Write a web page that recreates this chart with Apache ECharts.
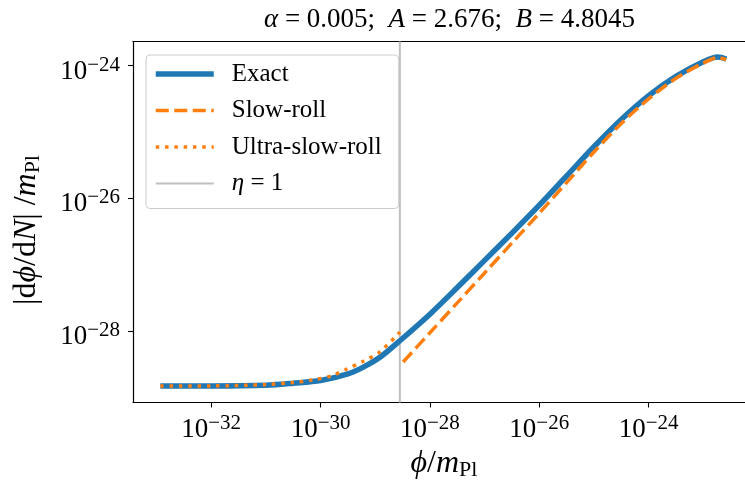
<!DOCTYPE html>
<html>
<head>
<meta charset="utf-8">
<script src="https://cdn.jsdelivr.net/npm/echarts@6/dist/echarts.min.js"></script>
<style>
html,body{margin:0;padding:0;background:#fff;}
#chart{width:745px;height:483px;}
</style>
</head>
<body>
<div id="chart"></div>
<script>
// ---- data: log10 values (both axes are logarithmic) ----
const xTickExps = [-32, -30, -28, -26, -24];
const yTickExps = [-28, -26, -24];
const xLogRange = [-33.43, -22.055];
const yLogRange = [-29.08, -23.646];

const exactLogPhi  = [-32.93, -32.0, -31.0, -30.5, -30.0, -29.5, -29.2, -28.9, -28.55, -28.0, -27.5, -27.0, -26.5, -26.0, -25.5, -25.0, -24.5, -24.0, -23.5, -23.0, -22.73, -22.58];
const exactLogDphi = [-28.83, -28.83, -28.82, -28.79, -28.75, -28.65, -28.54, -28.39, -28.15, -27.75, -27.35, -26.94, -26.53, -26.11, -25.67, -25.23, -24.82, -24.46, -24.17, -23.95, -23.88, -23.91];

const slowLogPhi  = [-28.49, -28.0, -27.5, -27.0, -26.5, -26.0, -25.5, -25.0, -24.5, -24.0, -23.5, -23.0, -22.73, -22.58];
const slowLogDphi = [-28.47, -28.03, -27.58, -27.13, -26.68, -26.23, -25.77, -25.31, -24.88, -24.51, -24.20, -23.97, -23.89, -23.92];

const usrLogPhi  = [-32.93, -32.0, -31.0, -30.5, -30.14, -29.8, -29.53, -29.22, -28.92, -28.55];
const usrLogDphi = [-28.83, -28.83, -28.81, -28.78, -28.74, -28.68, -28.58, -28.46, -28.32, -28.02];

const etaLogPhi = -28.55;

const seriesNames = ['Exact', 'Slow-roll', 'Ultra-slow-roll', 'η = 1'];

// ---- helpers ----
const pairs = (xs, ys) => xs.map((x, i) => [x, ys[i]]);
const FONT = '"Liberation Serif", "DejaVu Serif", serif';
const expLabel = v => {
  const e = Math.round(v);
  return '{b|10}{s|' + (e < 0 ? '\u2212' : '') + Math.abs(e) + '}';
};
const tickRich = {
  b: {fontFamily: FONT, fontSize: 27, lineHeight: 34, color: '#000'},
  s: {fontFamily: FONT, fontSize: 21, lineHeight: 17, verticalAlign: 'top', color: '#000'}
};
const nameRich = {
  n: {fontFamily: FONT, fontSize: 32, lineHeight: 34, color: '#000'},
  i: {fontFamily: FONT, fontSize: 32, lineHeight: 34, fontStyle: 'italic', color: '#000'},
  s: {fontFamily: FONT, fontSize: 22, lineHeight: 23, verticalAlign: 'bottom', color: '#000'}
};

const chart = echarts.init(document.getElementById('chart'), null, {renderer: 'canvas'});
const option = {
  animation: false,
  backgroundColor: '#fff',
  title: {
    text: '{i|α} = 0.005;  {i|A} = 2.676;  {i|B} = 4.8045',
    left: 449.5, top: 6, padding: 0, textAlign: 'center',
    textStyle: {
      fontFamily: FONT, fontSize: 27, fontWeight: 'normal', color: '#000', lineHeight: 28,
      rich: {i: {fontFamily: FONT, fontSize: 27, fontStyle: 'italic', color: '#000', lineHeight: 28}}
    }
  },
  grid: {left: 133, top: 41.5, width: 622, height: 361, show: false, outerBoundsMode: 'none', containLabel: false},
  legend: {
    orient: 'vertical', left: 146, top: 55,
    padding: [6, 17, 12, 7],
    itemWidth: 58, itemHeight: 14, itemGap: 10.5,
    selectedMode: false,
    backgroundColor: 'rgba(255,255,255,0.8)',
    borderColor: '#cccccc', borderWidth: 1, borderRadius: 4,
    data: seriesNames,
    itemStyle: {opacity: 0},
    lineStyle: {width: 'inherit'},
    formatter: name => name === 'η = 1' ? '{i|η} = 1' : name,
    textStyle: {
      fontFamily: FONT, fontSize: 25, lineHeight: 26, color: '#000', padding: [0, 0, 0, 13],
      rich: {i: {fontFamily: FONT, fontSize: 25, lineHeight: 26, fontStyle: 'italic', color: '#000'}}
    }
  },
  xAxis: [{
    type: 'value', position: 'bottom',
    min: xLogRange[0], max: xLogRange[1],
    name: '{i|ϕ}{n|/}{i|m}{s|Pl}',
    nameLocation: 'middle', nameGap: 43,
    nameTextStyle: {rich: nameRich},
    axisLine: {show: true, onZero: false, lineStyle: {color: '#000', width: 1.2}},
    axisTick: {show: true, inside: false, length: 5, lineStyle: {color: '#000', width: 1.1}, customValues: xTickExps},
    axisLabel: {margin: 10, customValues: xTickExps, formatter: expLabel, rich: tickRich},
    splitLine: {show: false}, minorTick: {show: false}
  }, {
    type: 'value', position: 'top',
    min: xLogRange[0], max: xLogRange[1],
    axisLine: {show: true, onZero: false, lineStyle: {color: '#000', width: 1.2}},
    axisTick: {show: false}, axisLabel: {show: false}, splitLine: {show: false}
  }],
  yAxis: {
    type: 'value',
    min: yLogRange[0], max: yLogRange[1],
    name: '{n||d}{i|ϕ}{n|/d}{i|N}{n|| /}{i|m}{s|Pl}',
    nameLocation: 'middle', nameGap: 89, nameRotate: 90,
    nameTextStyle: {rich: nameRich, padding: [0, 16, 0, 0]},
    axisLine: {show: true, onZero: false, lineStyle: {color: '#000', width: 1.2}},
    axisTick: {show: true, inside: false, length: 5, lineStyle: {color: '#000', width: 1.1}, customValues: yTickExps},
    axisLabel: {margin: 13, customValues: yTickExps, formatter: expLabel, rich: tickRich, padding: [13, 0, 0, 0]},
    splitLine: {show: false}, minorTick: {show: false}
  },
  series: [
    {
      name: seriesNames[3], type: 'line', symbol: 'none', z: 1,
      data: [[etaLogPhi, yLogRange[0]], [etaLogPhi, yLogRange[1]]],
      lineStyle: {color: '#bfbfbf', width: 2}, itemStyle: {color: '#bfbfbf'}
    },
    {
      name: seriesNames[0], type: 'line', symbol: 'none', smooth: 0.3, z: 2,
      data: pairs(exactLogPhi, exactLogDphi),
      lineStyle: {color: '#1f77b4', width: 5.5, cap: 'butt'}, itemStyle: {color: '#1f77b4'}
    },
    {
      name: seriesNames[1], type: 'line', symbol: 'none', smooth: 0.3, z: 3,
      data: pairs(slowLogPhi, slowLogDphi),
      lineStyle: {color: '#ff7f0e', width: 3.5, type: [13, 5.5], cap: 'butt'}, itemStyle: {color: '#ff7f0e'}
    },
    {
      name: seriesNames[2], type: 'line', symbol: 'none', smooth: 0.3, z: 4,
      data: pairs(usrLogPhi, usrLogDphi),
      lineStyle: {color: '#ff7f0e', width: 3.5, type: [3.5, 5.8], cap: 'butt'}, itemStyle: {color: '#ff7f0e'}
    }
  ]
};
chart.setOption(option);
</script>
</body>
</html>
